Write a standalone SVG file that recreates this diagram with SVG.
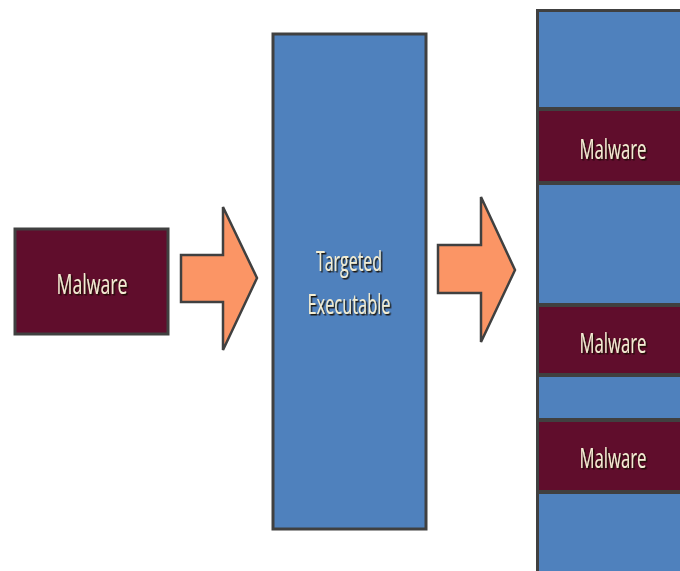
<svg xmlns="http://www.w3.org/2000/svg" width="680" height="571" viewBox="0 0 680 571">
<defs>
<filter id="sh" x="-20%" y="-30%" width="140%" height="160%">
<feDropShadow dx="1.5" dy="1.5" stdDeviation="0.6" flood-color="#140806" flood-opacity="0.9"/>
</filter>
</defs>
<style>
.blue{fill:#4f81bd;stroke:#404040;stroke-width:3}
.mal{fill:#600d2c;stroke:#404040;stroke-width:3}
.fillb{fill:#4f81bd}
.fillm{fill:#600d2c}
.edge{fill:none;stroke:#404040;stroke-width:4}
.arrow{fill:#fb9565;stroke:#404040;stroke-width:2.5;stroke-linejoin:miter}
.t{font-family:"Open Sans","Liberation Sans",sans-serif;font-size:27px;fill:#f3edd2;text-anchor:middle;filter:url(#sh)}
</style>
<rect width="680" height="571" fill="#ffffff"/>
<g id="malware-source">
<rect class="mal" x="15" y="229" width="153" height="105"/>
<text class="t" x="92" y="294" textLength="71" lengthAdjust="spacingAndGlyphs">Malware</text>
</g>
<g id="connectors">
<polygon class="arrow" points="181,255 223,255 223,207 257,278 223,350 223,302 181,302"/>
<polygon class="arrow" points="438,245 481,245 481,197 515,270 481,342 481,293 438,293"/>
</g>
<g id="targeted-executable">
<rect class="blue" x="273" y="34" width="153" height="495"/>
<text class="t" x="349" y="271" textLength="66" lengthAdjust="spacingAndGlyphs">Targeted</text>
<text class="t" x="349" y="314" textLength="83" lengthAdjust="spacingAndGlyphs">Executable</text>
</g>
<g id="infected-executable">
<rect class="fillb" x="537" y="10" width="143" height="561"/>
<rect class="fillm" x="537" y="109" width="143" height="74"/>
<rect class="fillm" x="537" y="305" width="143" height="70"/>
<rect class="fillm" x="537" y="420" width="143" height="72"/>
<path class="edge" d="M537,109H680M537,183H680M537,305H680M537,375H680M537,420H680M537,492H680"/>
<path d="M537.5,571V10.5H680" fill="none" stroke="#404040" stroke-width="3"/>
<text class="t" x="613" y="159" textLength="67" lengthAdjust="spacingAndGlyphs">Malware</text>
<text class="t" x="613" y="353" textLength="67" lengthAdjust="spacingAndGlyphs">Malware</text>
<text class="t" x="613" y="468" textLength="67" lengthAdjust="spacingAndGlyphs">Malware</text>
</g>
</svg>
